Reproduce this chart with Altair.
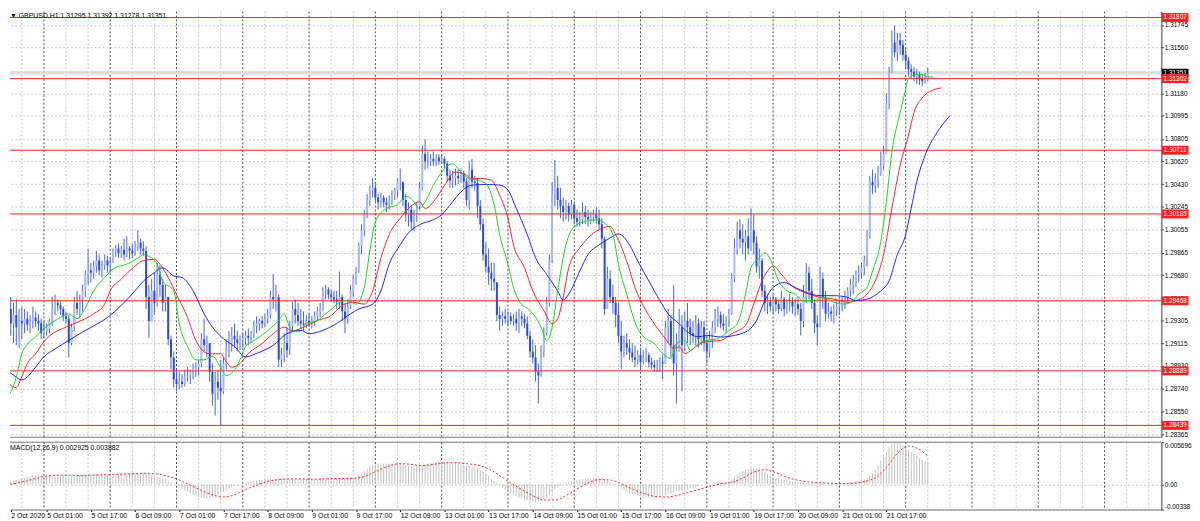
import json
import altair as alt
import pandas as pd

FONT = "Liberation Sans"
W, H_PRICE, H_MACD = 1163, 430, 68

# ---------------- data ----------------
FIRST_BAR = -15          # bar index; bar 0 = 5 Oct 2020 00:00, one bar per hour (H1)
FIRST_OPEN = 1.2885

HIGH = [
    1.2895, 1.2952, 1.2949, 1.2950, 1.2945, 1.2948, 1.2940, 1.2942, 1.2940, 1.2938,
    1.2935, 1.2942, 1.2938, 1.2936, 1.2932, 1.2930, 1.2928, 1.2932, 1.2950, 1.2952,
    1.2948, 1.2946, 1.2942, 1.2938, 1.2935, 1.2928, 1.2950, 1.2955, 1.2952, 1.2960,
    1.2972, 1.2990, 1.2978, 1.2980, 1.2988, 1.2985, 1.2980, 1.2985, 1.2984, 1.2982,
    1.2990, 1.2993, 1.2994, 1.2992, 1.2998, 1.3000, 1.2992, 1.2994, 1.2996, 1.3005,
    1.2998, 1.2996, 1.2992, 1.2960, 1.2965, 1.2970, 1.2978, 1.2976, 1.2965, 1.2960,
    1.2950, 1.2918, 1.2905, 1.2890, 1.2888, 1.2886, 1.2890, 1.2892, 1.2890, 1.2895,
    1.2896, 1.2898, 1.2920, 1.2932, 1.2918, 1.2912, 1.2895, 1.2888, 1.2890, 1.2898,
    1.2900, 1.2915, 1.2922, 1.2925, 1.2928, 1.2922, 1.2918, 1.2920, 1.2922, 1.2924,
    1.2922, 1.2930, 1.2934, 1.2932, 1.2934, 1.2936, 1.2940, 1.2955, 1.2969, 1.2960,
    1.2952, 1.2908, 1.2920, 1.2925, 1.2930, 1.2946, 1.2948, 1.2945, 1.2940, 1.2938,
    1.2935, 1.2936, 1.2934, 1.2938, 1.2942, 1.2945, 1.2958, 1.2960, 1.2958, 1.2956,
    1.2955, 1.2955, 1.2971, 1.2952, 1.2945, 1.2948, 1.2960, 1.2968, 1.2975, 1.2995,
    1.3010, 1.3022, 1.3035, 1.3042, 1.3048, 1.3045, 1.3035, 1.3036, 1.3034, 1.3032,
    1.3034, 1.3038, 1.3040, 1.3048, 1.3056, 1.3045, 1.3035, 1.3028, 1.3026, 1.3022,
    1.3028, 1.3045, 1.3075, 1.3080, 1.3070, 1.3068, 1.3070, 1.3068, 1.3068, 1.3068,
    1.3066, 1.3062, 1.3055, 1.3054, 1.3056, 1.3055, 1.3056, 1.3054, 1.3048, 1.3062,
    1.3064, 1.3050, 1.3048, 1.3030, 1.3015, 1.2995, 1.2990, 1.2978, 1.2978, 1.2960,
    1.2942, 1.2938, 1.2940, 1.2938, 1.2937, 1.2936, 1.2938, 1.2940, 1.2938, 1.2936,
    1.2934, 1.2922, 1.2915, 1.2910, 1.2895, 1.2910, 1.2925, 1.2950, 1.2985, 1.3045,
    1.3063, 1.3050, 1.3040, 1.3032, 1.3030, 1.3028, 1.3030, 1.3028, 1.3022, 1.3020,
    1.3028, 1.3025, 1.3022, 1.3020, 1.3022, 1.3024, 1.3022, 1.3015, 1.3000, 1.2975,
    1.2972, 1.2960, 1.2950, 1.2945, 1.2930, 1.2918, 1.2920, 1.2915, 1.2912, 1.2910,
    1.2906, 1.2908, 1.2906, 1.2908, 1.2904, 1.2900, 1.2898, 1.2898, 1.2900, 1.2902,
    1.2930, 1.2940, 1.2935, 1.2960, 1.2920, 1.2940, 1.2935, 1.2938, 1.2945, 1.2932,
    1.2930, 1.2935, 1.2932, 1.2930, 1.2930, 1.2918, 1.2922, 1.2930, 1.2940, 1.2942,
    1.2938, 1.2936, 1.2934, 1.2940, 1.2970, 1.2998, 1.3012, 1.3014, 1.3010, 1.3005,
    1.3015, 1.3023, 1.3018, 1.3000, 1.2990, 1.2982, 1.2960, 1.2952, 1.2950, 1.2952,
    1.2950, 1.2948, 1.2955, 1.2950, 1.2948, 1.2952, 1.2950, 1.2948, 1.2950, 1.2945,
    1.2960, 1.2978, 1.2975, 1.2965, 1.2948, 1.2935, 1.2975, 1.2970, 1.2955, 1.2945,
    1.2942, 1.2944, 1.2946, 1.2948, 1.2950, 1.2955, 1.2958, 1.2965, 1.2968, 1.2972,
    1.2976, 1.2978, 1.2984, 1.3005, 1.3050, 1.3055, 1.3052, 1.3058, 1.3070, 1.3075,
    1.3118, 1.3140, 1.3170, 1.3174, 1.3168, 1.3168, 1.3162, 1.3155, 1.3148, 1.3142,
    1.3140, 1.3138, 1.3136, 1.3134, 1.3135, 1.31392,
]
LOW = [
    1.2860, 1.2878, 1.2914, 1.2918, 1.2912, 1.2910, 1.2908, 1.2915, 1.2920, 1.2922,
    1.2920, 1.2924, 1.2925, 1.2922, 1.2915, 1.2916, 1.2918, 1.2920, 1.2926, 1.2935,
    1.2938, 1.2935, 1.2930, 1.2928, 1.2900, 1.2910, 1.2922, 1.2935, 1.2932, 1.2938,
    1.2950, 1.2960, 1.2962, 1.2965, 1.2970, 1.2968, 1.2966, 1.2972, 1.2970, 1.2970,
    1.2978, 1.2983, 1.2982, 1.2982, 1.2980, 1.2983, 1.2981, 1.2982, 1.2984, 1.2988,
    1.2985, 1.2984, 1.2940, 1.2916, 1.2930, 1.2935, 1.2942, 1.2950, 1.2938, 1.2938,
    1.2910, 1.2890, 1.2875, 1.2872, 1.2874, 1.2875, 1.2876, 1.2880, 1.2878, 1.2882,
    1.2884, 1.2885, 1.2892, 1.2905, 1.2900, 1.2880, 1.2860, 1.2852, 1.2865, 1.2844,
    1.2870, 1.2890, 1.2900, 1.2905, 1.2908, 1.2905, 1.2906, 1.2908, 1.2910, 1.2910,
    1.2912, 1.2916, 1.2920, 1.2922, 1.2924, 1.2925, 1.2928, 1.2932, 1.2940, 1.2938,
    1.2892, 1.2892, 1.2896, 1.2900, 1.2902, 1.2922, 1.2928, 1.2926, 1.2924, 1.2922,
    1.2924, 1.2925, 1.2924, 1.2926, 1.2930, 1.2933, 1.2938, 1.2948, 1.2948, 1.2946,
    1.2945, 1.2940, 1.2940, 1.2930, 1.2920, 1.2928, 1.2940, 1.2950, 1.2960, 1.2970,
    1.2985, 1.3000, 1.3015, 1.3025, 1.3032, 1.3028, 1.3022, 1.3024, 1.3024, 1.3020,
    1.3022, 1.3026, 1.3030, 1.3032, 1.3038, 1.3025, 1.3012, 1.3008, 1.3005, 1.3004,
    1.3012, 1.3022, 1.3038, 1.3055, 1.3056, 1.3058, 1.3058, 1.3058, 1.3059, 1.3060,
    1.3056, 1.3045, 1.3040, 1.3040, 1.3042, 1.3043, 1.3044, 1.3040, 1.3025, 1.3022,
    1.3040, 1.3038, 1.3015, 1.3005, 1.2980, 1.2970, 1.2960, 1.2955, 1.2955, 1.2930,
    1.2922, 1.2926, 1.2928, 1.2926, 1.2927, 1.2926, 1.2922, 1.2920, 1.2926, 1.2924,
    1.2915, 1.2900, 1.2895, 1.2880, 1.2862, 1.2884, 1.2900, 1.2918, 1.2942, 1.2978,
    1.3025, 1.3022, 1.3015, 1.3012, 1.3014, 1.3012, 1.3014, 1.3010, 1.3008, 1.3008,
    1.3010, 1.3010, 1.3008, 1.3010, 1.3012, 1.3010, 1.3006, 1.2990, 1.2935, 1.2940,
    1.2945, 1.2936, 1.2925, 1.2912, 1.2890, 1.2900, 1.2902, 1.2898, 1.2896, 1.2892,
    1.2894, 1.2890, 1.2894, 1.2896, 1.2892, 1.2890, 1.2888, 1.2888, 1.2888, 1.2882,
    1.2895, 1.2912, 1.2900, 1.2885, 1.2862, 1.2905, 1.2872, 1.2905, 1.2912, 1.2910,
    1.2912, 1.2910, 1.2908, 1.2910, 1.2905, 1.2895, 1.2900, 1.2908, 1.2920, 1.2925,
    1.2924, 1.2922, 1.2920, 1.2925, 1.2935, 1.2962, 1.2985, 1.2990, 1.2985, 1.2980,
    1.2985, 1.2988, 1.2985, 1.2970, 1.2965, 1.2950, 1.2938, 1.2936, 1.2938, 1.2936,
    1.2938, 1.2936, 1.2938, 1.2934, 1.2936, 1.2938, 1.2936, 1.2934, 1.2935, 1.2918,
    1.2925, 1.2945, 1.2948, 1.2940, 1.2920, 1.2910, 1.2935, 1.2940, 1.2930, 1.2932,
    1.2930, 1.2928, 1.2934, 1.2935, 1.2938, 1.2940, 1.2945, 1.2950, 1.2952, 1.2958,
    1.2962, 1.2965, 1.2968, 1.2975, 1.2998, 1.3035, 1.3036, 1.3040, 1.3050, 1.3055,
    1.3068, 1.3105, 1.3135, 1.3148, 1.3145, 1.3150, 1.3145, 1.3138, 1.3132, 1.3130,
    1.3128, 1.3126, 1.3125, 1.3124, 1.3126, 1.31278,
]
CLOSE = [
    1.2880, 1.2935, 1.2940, 1.2928, 1.2935, 1.2925, 1.2930, 1.2928, 1.2932, 1.2927,
    1.2930, 1.2933, 1.2930, 1.2928, 1.2920, 1.2922, 1.2924, 1.2930, 1.2940, 1.2945,
    1.2943, 1.2940, 1.2934, 1.2932, 1.2912, 1.2925, 1.2945, 1.2940, 1.2948, 1.2955,
    1.2968, 1.2972, 1.2970, 1.2975, 1.2980, 1.2972, 1.2976, 1.2980, 1.2976, 1.2978,
    1.2988, 1.2990, 1.2986, 1.2989, 1.2985, 1.2990, 1.2988, 1.2986, 1.2992, 1.2995,
    1.2990, 1.2988, 1.2950, 1.2930, 1.2955, 1.2945, 1.2968, 1.2960, 1.2945, 1.2950,
    1.2915, 1.2900, 1.2882, 1.2878, 1.2880, 1.2878, 1.2884, 1.2885, 1.2888, 1.2890,
    1.2892, 1.2895, 1.2915, 1.2910, 1.2912, 1.2888, 1.2870, 1.2880, 1.2875, 1.2872,
    1.2895, 1.2908, 1.2912, 1.2918, 1.2915, 1.2912, 1.2914, 1.2916, 1.2918, 1.2916,
    1.2920, 1.2926, 1.2928, 1.2930, 1.2928, 1.2932, 1.2935, 1.2950, 1.2948, 1.2950,
    1.2898, 1.2902, 1.2912, 1.2906, 1.2926, 1.2940, 1.2935, 1.2930, 1.2928, 1.2927,
    1.2930, 1.2928, 1.2930, 1.2934, 1.2938, 1.2940, 1.2955, 1.2956, 1.2952, 1.2950,
    1.2948, 1.2946, 1.2950, 1.2938, 1.2932, 1.2942, 1.2955, 1.2965, 1.2972, 1.2992,
    1.3005, 1.3018, 1.3030, 1.3038, 1.3040, 1.3032, 1.3028, 1.3032, 1.3028, 1.3026,
    1.3030, 1.3034, 1.3038, 1.3045, 1.3045, 1.3030, 1.3018, 1.3022, 1.3012, 1.3018,
    1.3025, 1.3040, 1.3068, 1.3062, 1.3062, 1.3064, 1.3062, 1.3065, 1.3062, 1.3064,
    1.3060, 1.3050, 1.3046, 1.3048, 1.3050, 1.3048, 1.3052, 1.3045, 1.3030, 1.3055,
    1.3045, 1.3044, 1.3025, 1.3010, 1.2985, 1.2975, 1.2970, 1.2965, 1.2962, 1.2935,
    1.2932, 1.2934, 1.2932, 1.2934, 1.2930, 1.2932, 1.2928, 1.2934, 1.2932, 1.2928,
    1.2918, 1.2905, 1.2900, 1.2888, 1.2885, 1.2905, 1.2920, 1.2945, 1.2980, 1.3035,
    1.3040, 1.3030, 1.3025, 1.3020, 1.3025, 1.3018, 1.3026, 1.3015, 1.3012, 1.3014,
    1.3020, 1.3016, 1.3014, 1.3016, 1.3018, 1.3015, 1.3010, 1.2998, 1.2940, 1.2965,
    1.2950, 1.2945, 1.2935, 1.2918, 1.2905, 1.2912, 1.2908, 1.2904, 1.2900, 1.2898,
    1.2902, 1.2896, 1.2900, 1.2902, 1.2896, 1.2894, 1.2892, 1.2893, 1.2896, 1.2895,
    1.2925, 1.2930, 1.2910, 1.2895, 1.2905, 1.2925, 1.2910, 1.2930, 1.2925, 1.2920,
    1.2918, 1.2928, 1.2915, 1.2925, 1.2912, 1.2905, 1.2915, 1.2925, 1.2932, 1.2935,
    1.2928, 1.2926, 1.2930, 1.2936, 1.2965, 1.2990, 1.3005, 1.2998, 1.2995, 1.3000,
    1.2990, 1.3005, 1.2995, 1.2975, 1.2980, 1.2955, 1.2945, 1.2946, 1.2942, 1.2948,
    1.2944, 1.2940, 1.2948, 1.2940, 1.2945, 1.2946, 1.2942, 1.2944, 1.2940, 1.2930,
    1.2950, 1.2970, 1.2955, 1.2945, 1.2928, 1.2925, 1.2965, 1.2950, 1.2936, 1.2938,
    1.2936, 1.2940, 1.2942, 1.2944, 1.2946, 1.2950, 1.2955, 1.2960, 1.2962, 1.2968,
    1.2970, 1.2974, 1.2980, 1.3000, 1.3045, 1.3042, 1.3048, 1.3052, 1.3058, 1.3068,
    1.3110, 1.3135, 1.3160, 1.3152, 1.3162, 1.3158, 1.3150, 1.3145, 1.3138, 1.3136,
    1.3132, 1.3134, 1.3130, 1.3128, 1.31295, 1.31351,
]

LIPS_BAR = [-15, -13, -10, -8, -6, -3, 0, 3, 6, 9, 12, 15, 18, 22, 25, 30, 34, 36, 39, 41,
            43, 47, 49, 52, 55, 58, 61, 64, 66, 68, 71, 73, 76, 81, 85, 87, 89, 92, 95, 99,
            102, 105, 107, 110, 113, 116, 118, 120, 124, 128, 131, 133, 136, 138, 141, 144, 148, 151, 154, 157,
            160, 163, 165, 168, 170, 172, 176, 178, 180, 182, 184, 186, 189, 192, 196, 200, 203, 206, 208, 211,
            213, 215, 218, 221, 224, 227, 229, 232, 234, 237, 240, 244, 248, 251, 254, 256, 259, 261, 263, 266,
            269, 272, 275, 279, 282, 286, 290, 293, 295, 298, 300, 303, 305, 307, 310, 312, 313, 316, 318, 320, 322]
LIPS = [1.28815, 1.2869, 1.2884, 1.2903, 1.2911, 1.2917, 1.2924, 1.2929, 1.2933, 1.2936,
        1.2932, 1.2941, 1.2955, 1.2966, 1.2973, 1.2977, 1.2982, 1.2985, 1.2982, 1.2977,
        1.2963, 1.2955, 1.2928, 1.2909, 1.2898, 1.2898, 1.2901, 1.2892, 1.2885, 1.2887,
        1.2898, 1.2909, 1.2914, 1.2922, 1.29305, 1.2936, 1.2925, 1.2921, 1.2928, 1.29305,
        1.2936, 1.29415, 1.29455, 1.2947, 1.2944, 1.2958, 1.2988, 1.3012, 1.3023, 1.3026,
        1.3033, 1.3031, 1.3023, 1.30286, 1.3042, 1.3053, 1.3060, 1.3053, 1.30477, 1.30463,
        1.30436, 1.3026, 1.30014, 1.29769, 1.29578, 1.29469, 1.29387, 1.29333, 1.2925, 1.2914,
        1.2925, 1.2955, 1.2993, 1.3008, 1.30123, 1.30136, 1.3011, 1.30014, 1.29769, 1.29523,
        1.2936, 1.29237, 1.29155, 1.29115, 1.29033, 1.28992, 1.29115, 1.29142, 1.2906, 1.29115,
        1.2914, 1.29155, 1.29223, 1.29278, 1.29523, 1.29741, 1.29823, 1.29864, 1.29809, 1.29632,
        1.2955, 1.29523, 1.29469, 1.29469, 1.29496, 1.29455, 1.29441, 1.29469, 1.29523, 1.29578,
        1.29714, 1.29959, 1.30286, 1.30695, 1.31022, 1.31213, 1.31308, 1.31335, 1.31335, 1.31316, 1.31316]

TEETH_BAR = [-15, -13, -10, -8, -6, -3, 0, 4, 7, 11, 15, 18, 22, 24, 28, 33, 36, 40, 42, 45,
             48, 52, 55, 58, 60, 64, 66, 68, 71, 74, 79, 83, 87, 90, 94, 99, 104, 108, 112, 116,
             119, 122, 125, 129, 132, 136, 138, 142, 145, 149, 153, 155, 158, 162, 165, 168, 170, 174, 177, 181,
             184, 186, 188, 190, 194, 197, 201, 205, 207, 211, 214, 218, 221, 225, 228, 230, 232, 236, 239, 245,
             249, 254, 257, 260, 262, 264, 267, 270, 274, 277, 281, 286, 291, 294, 298, 301, 304, 307, 310, 313,
             315, 318, 321, 325]
TEETH = [1.2884, 1.2879, 1.2875, 1.28842, 1.2895, 1.2903, 1.2913, 1.2921, 1.2924, 1.2928,
         1.2932, 1.2936, 1.2944, 1.2955, 1.29646, 1.29755, 1.2980, 1.2981, 1.2977, 1.2966,
         1.2952, 1.2933, 1.2914, 1.29046, 1.2903, 1.2903, 1.28965, 1.2892, 1.2895, 1.29033,
         1.29115, 1.29196, 1.2925, 1.2922, 1.2925, 1.29305, 1.29346, 1.2943, 1.29455, 1.2944,
         1.2955, 1.2982, 1.30014, 1.3015, 1.3023, 1.30286, 1.3023, 1.30314, 1.3042, 1.3053,
         1.30505, 1.30477, 1.30477, 1.30463, 1.3034, 1.3015, 1.2993, 1.2974, 1.2955, 1.29387,
         1.29278, 1.29319, 1.29496, 1.2974, 1.29905, 1.29987, 1.30055, 1.30082, 1.30014, 1.29796,
         1.29578, 1.29387, 1.29278, 1.29155, 1.29074, 1.29087, 1.29033, 1.29087, 1.29128, 1.2914,
         1.29196, 1.29264, 1.29441, 1.29632, 1.29714, 1.29755, 1.29687, 1.29605, 1.2955, 1.29523,
         1.29496, 1.29482, 1.29455, 1.29469, 1.29523, 1.29632, 1.2985, 1.30232, 1.30586, 1.30831,
         1.31022, 1.31144, 1.31199, 1.31226]

JAW_BAR = [-15, -12, -8, -6, -3, 0, 4, 9, 14, 18, 23, 28, 33, 36, 40, 43, 47, 50, 54, 58,
           61, 65, 69, 73, 77, 83, 88, 93, 96, 101, 106, 111, 114, 119, 122, 125, 129, 132, 136, 141,
           144, 148, 151, 155, 160, 165, 168, 171, 175, 178, 182, 186, 188, 190, 194, 197, 201, 205, 208, 212,
           215, 219, 223, 226, 230, 233, 237, 240, 245, 250, 255, 258, 261, 264, 268, 272, 276, 281, 286, 291,
           294, 298, 303, 306, 309, 312, 314, 316, 319, 323, 328]
JAW = [1.2891, 1.2887, 1.28815, 1.2884, 1.2892, 1.29005, 1.2907, 1.2914, 1.2921, 1.2926,
       1.2933, 1.2943, 1.2955, 1.2963, 1.2970, 1.2974, 1.29673, 1.2966, 1.2955, 1.2936,
       1.2925, 1.29155, 1.2909, 1.29005, 1.29033, 1.2910, 1.29196, 1.29224, 1.29196, 1.29224,
       1.2928, 1.2936, 1.2940, 1.2944, 1.2955, 1.2977, 1.2993, 1.30028, 1.30096, 1.30137,
       1.30178, 1.30286, 1.30368, 1.30423, 1.30428, 1.30423, 1.30382, 1.30232, 1.30014, 1.29823,
       1.29687, 1.2955, 1.29474, 1.29523, 1.29714, 1.2985, 1.2993, 1.29987, 1.3002, 1.2993,
       1.29796, 1.29632, 1.29469, 1.2936, 1.29278, 1.2921, 1.2917, 1.29182, 1.29169, 1.29182,
       1.29223, 1.29305, 1.29469, 1.29578, 1.29618, 1.29578, 1.29537, 1.2951, 1.2951, 1.29496,
       1.29469, 1.29482, 1.2955, 1.29632, 1.2985, 1.30014, 1.30232, 1.3045, 1.30668, 1.30845,
       1.30995]

# MACD(12,26,9) main (histogram), one value per bar
MACD_MAIN = [
    3e-4, 3e-4, 4e-4, 4e-4, 5e-4, 6e-4, 7e-4, 8e-4, 9e-4, 10e-4,
    11e-4, 12e-4, 12e-4, 13e-4, 13e-4, 13e-4, 13e-4, 13e-4, 12e-4, 12e-4,
    12e-4, 12e-4, 12e-4, 12e-4, 11e-4, 11e-4, 11e-4, 12e-4, 12e-4, 12e-4,
    13e-4, 13e-4, 13e-4, 13e-4, 13e-4, 13e-4, 13e-4, 13e-4, 14e-4, 14e-4,
    14e-4, 14e-4, 14e-4, 15e-4, 15e-4, 15e-4, 15e-4, 15e-4, 15e-4, 15e-4,
    15e-4, 15e-4, 14e-4, 13e-4, 12e-4, 11e-4, 10e-4, 9e-4, 8e-4, 7e-4,
    5e-4, 3e-4, 1e-4, -1e-4, -3e-4, -6e-4, -8e-4, -10e-4, -12e-4, -14e-4,
    -16e-4, -17e-4, -18e-4, -19e-4, -19e-4, -18e-4, -17e-4, -16e-4, -14e-4, -12e-4,
    -10e-4, -8e-4, -6e-4, -4e-4, -2e-4, -1e-4, 0.0, 1e-4, 2e-4, 3e-4,
    4e-4, 5e-4, 5e-4, 6e-4, 6e-4, 7e-4, 7e-4, 8e-4, 8e-4, 8e-4,
    8e-4, 8e-4, 7e-4, 7e-4, 7e-4, 7e-4, 7e-4, 7e-4, 7e-4, 7e-4,
    7e-4, 7e-4, 7e-4, 7e-4, 7e-4, 8e-4, 8e-4, 8e-4, 8e-4, 8e-4,
    8e-4, 8e-4, 8e-4, 8e-4, 8e-4, 8e-4, 8e-4, 9e-4, 10e-4, 12e-4,
    15e-4, 18e-4, 21e-4, 24e-4, 26e-4, 27e-4, 28e-4, 28e-4, 28e-4, 28e-4,
    28e-4, 28e-4, 28e-4, 28e-4, 28e-4, 27e-4, 26e-4, 25e-4, 25e-4, 25e-4,
    25e-4, 25e-4, 26e-4, 27e-4, 28e-4, 29e-4, 29e-4, 30e-4, 30e-4, 30e-4,
    30e-4, 30e-4, 29e-4, 29e-4, 29e-4, 28e-4, 28e-4, 27e-4, 26e-4, 25e-4,
    25e-4, 24e-4, 22e-4, 20e-4, 17e-4, 14e-4, 11e-4, 8e-4, 5e-4, 2e-4,
    -1e-4, -4e-4, -7e-4, -10e-4, -12e-4, -14e-4, -16e-4, -18e-4, -19e-4, -20e-4,
    -21e-4, -22e-4, -23e-4, -24e-4, -24e-4, -23e-4, -21e-4, -18e-4, -14e-4, -10e-4,
    -7e-4, -4e-4, -2e-4, 0.0, 2e-4, 3e-4, 4e-4, 5e-4, 6e-4, 7e-4,
    7e-4, 8e-4, 8e-4, 8e-4, 8e-4, 8e-4, 8e-4, 8e-4, 7e-4, 5e-4,
    3e-4, 1e-4, -1e-4, -3e-4, -6e-4, -8e-4, -10e-4, -12e-4, -13e-4, -14e-4,
    -15e-4, -16e-4, -17e-4, -17e-4, -18e-4, -18e-4, -18e-4, -18e-4, -17e-4, -16e-4,
    -15e-4, -13e-4, -12e-4, -11e-4, -10e-4, -9e-4, -8e-4, -7e-4, -6e-4, -5e-4,
    -4e-4, -3e-4, -2e-4, -1e-4, 0.0, 0.0, 1e-4, 1e-4, 2e-4, 2e-4,
    3e-4, 3e-4, 3e-4, 5e-4, 7e-4, 10e-4, 13e-4, 16e-4, 18e-4, 20e-4,
    21e-4, 22e-4, 22e-4, 21e-4, 20e-4, 18e-4, 16e-4, 14e-4, 12e-4, 10e-4,
    9e-4, 8e-4, 7e-4, 6e-4, 5e-4, 5e-4, 4e-4, 4e-4, 3e-4, 3e-4,
    3e-4, 2e-4, 2e-4, 2e-4, 2e-4, 2e-4, 2e-4, 2e-4, 1e-4, 1e-4,
    1e-4, 1e-4, 1e-4, 1e-4, 1e-4, 2e-4, 2e-4, 3e-4, 3e-4, 4e-4,
    5e-4, 6e-4, 7e-4, 9e-4, 12e-4, 15e-4, 20e-4, 26e-4, 32e-4, 38e-4,
    44e-4, 50e-4, 54e-4, 57e-4, 56e-4, 55e-4, 53e-4, 50e-4, 47e-4, 44e-4,
    41e-4, 38e-4, 35e-4, 33e-4, 31e-4, 29e-4,
]
SIGNAL_BAR = [-15, -11, -7, -3, 1, 5, 9, 13, 17, 21, 25, 29, 33, 37, 41, 45, 49, 53, 57, 61,
              65, 69, 73, 77, 81, 85, 89, 93, 97, 101, 105, 109, 113, 117, 121, 125, 129, 133, 137, 141,
              145, 149, 153, 157, 161, 165, 169, 173, 177, 181, 185, 189, 193, 197, 201, 205, 209, 213, 217, 221,
              225, 229, 233, 237, 241, 245, 249, 253, 257, 261, 265, 269, 273, 277, 281, 285, 289, 293, 297, 301,
              305, 309, 313, 316, 320]
SIGNAL = [-0.0002, 0.0001, 0.0004, 0.0008, 0.0011, 0.00125, 0.00125, 0.0012, 0.00125, 0.0013,
          0.00135, 0.0014, 0.00145, 0.0015, 0.0014, 0.0011, 0.0006, -0.0001, -0.0008, -0.0014,
          -0.0017, -0.0014, -0.0007, -0.0001, 0.0004, 0.00065, 0.00075, 0.00075, 0.0007, 0.00075,
          0.0008, 0.0008, 0.00085, 0.0012, 0.0019, 0.0025, 0.0028, 0.0027, 0.00255, 0.0027,
          0.0029, 0.00295, 0.0028, 0.0026, 0.0021, 0.0012, 0.0002, -0.0007, -0.0015, -0.0021,
          -0.0021, -0.0015, -0.0006, 0.0002, 0.00065, 0.0006, 0.0001, -0.0006, -0.0012, -0.0016,
          -0.0017, -0.0015, -0.0011, -0.0007, -0.0003, 0.0001, 0.0003, 0.00087, 0.00166, 0.00198,
          0.00158, 0.00097, 0.00057, 0.00034, 0.00024, 0.00016, 0.00011, 0.00017, 0.00037, 0.0009,
          0.00226, 0.00419, 0.00518, 0.0049, 0.00388]

LEVELS = [1.31807, 1.31302, 1.30711, 1.30185, 1.29468, 1.28889, 1.28439]
BID = 1.31351
PRICE_TICKS = [1.31745, 1.31560, 1.31365, 1.31180, 1.30995, 1.30805, 1.30620, 1.30430, 1.30245,
               1.30055, 1.29865, 1.29680, 1.29490, 1.29305, 1.29115, 1.28930, 1.28740, 1.28550, 1.28365]
MACD_TICKS = [0.005696, 0.0, -0.00338]
MACD_TICK_TEXT = ["0.005696", "0.00", "-0.00338"]

LABEL_BARS = [-12, 1, 17, 33, 49, 65, 81, 97, 113, 129, 145, 161, 177, 193, 209, 225, 241, 257, 273, 289, 305]
LABEL_TEXT = ["2 Oct 2020", "5 Oct 01:00", "5 Oct 17:00", "6 Oct 09:00", "7 Oct 01:00", "7 Oct 17:00",
              "8 Oct 09:00", "9 Oct 01:00", "9 Oct 17:00", "12 Oct 09:00", "13 Oct 01:00", "13 Oct 17:00",
              "14 Oct 09:00", "15 Oct 01:00", "15 Oct 17:00", "16 Oct 09:00", "19 Oct 01:00", "19 Oct 17:00",
              "20 Oct 09:00", "21 Oct 01:00", "21 Oct 17:00"]
GRID_BARS = [-8, 8, 16, 32, 40, 56, 64, 80, 88, 104, 112, 128, 136, 152, 160, 176, 184, 200, 208,
             224, 232, 248, 256, 272, 280, 296, 304, 320, 328, 344, 352, 368, 376, 392, 400]
DAY_BARS = [0, 24, 48, 72, 96, 120, 144, 168, 192, 216, 240, 264, 288, 312, 336, 360, 384]

TITLE = "\u25bc GBPUSD,H1  1.31295 1.31392 1.31278 1.31351"
MACD_TITLE = "MACD(12,26,9) 0.002925 0.003882"

# ---------------- view settings ----------------
X_DOMAIN = [-12.29, 404.55]
P_DOMAIN = [1.28341, 1.31856]
M_DOMAIN = [-0.00338, 0.005696]
RED = "#ff1e1e"
WICK, BULL, BEAR = "#4463e2", "#a9b8f2", "#2a4ade"
GRID_C, SEP_C, BORDER = "#c6c6c6", "#4a4a4a", "#7a7a7a"

xs = alt.Scale(domain=X_DOMAIN, nice=False, zero=False)
ps = alt.Scale(domain=P_DOMAIN, nice=False, zero=False)
ms = alt.Scale(domain=M_DOMAIN, nice=False, zero=False)

price_axis = alt.Axis(orient="right", values=PRICE_TICKS, format=".5f", grid=True, gridColor=GRID_C,
                      gridDash=[2, 2], tickSize=2, tickColor="#000000", labelFontSize=6.5, labelFont=FONT,
                      labelColor="#000000", labelPadding=1, domainColor=BORDER, domainWidth=1.5,
                      title=None, labelOverlap=False)
label_expr = json.dumps(LABEL_TEXT) + "[indexof(" + json.dumps(LABEL_BARS) + ", datum.value)]"
macd_expr = json.dumps(MACD_TICK_TEXT) + "[indexof(" + json.dumps(MACD_TICKS) + ", datum.value)]"
time_axis = alt.Axis(values=LABEL_BARS, labelExpr=label_expr, labelAlign="left", labelBaseline="top",
                     labelFontSize=7, labelFont=FONT, labelColor="#000000", labelPadding=0, tickSize=2,
                     tickColor="#000000", domainColor=BORDER, domainWidth=1, grid=False, title=None,
                     labelOverlap=False, labelFlush=False)
macd_axis = alt.Axis(orient="right", values=MACD_TICKS, labelExpr=macd_expr, grid=True, gridColor=GRID_C,
                     gridDash=[2, 2], tickSize=2, tickColor="#000000", labelFontSize=6.5, labelFont=FONT,
                     labelColor="#000000", labelPadding=1, labelFlush=True, domainColor=BORDER,
                     domainWidth=1.5, title=None, labelOverlap=False)


def PX(field="bar:Q"):
    return alt.X(field, scale=xs, axis=None)


def PY(field):
    return alt.Y(field, scale=ps, axis=price_axis)


def MX(field="bar:Q"):
    return alt.X(field, scale=xs, axis=time_axis)


def MY(field):
    return alt.Y(field, scale=ms, axis=macd_axis)


bars = list(range(FIRST_BAR, FIRST_BAR + len(CLOSE)))
opens = [FIRST_OPEN] + CLOSE[:-1]
candles = pd.DataFrame({"bar": bars, "open": opens, "high": HIGH, "low": LOW, "close": CLOSE})
candles["dir"] = ["up" if c >= o else "down" for o, c in zip(opens, CLOSE)]

grid_df = pd.DataFrame({"bar": GRID_BARS})
day_df = pd.DataFrame({"bar": DAY_BARS})
lvl_df = pd.DataFrame({"price": LEVELS})
bid_df = pd.DataFrame({"price": [BID]})
one = pd.DataFrame({"t": [TITLE]})
one_m = pd.DataFrame({"t": [MACD_TITLE]})

# ---------------- price panel ----------------
vgrid_p = alt.Chart(grid_df).mark_rule(color=GRID_C, strokeDash=[2, 2], strokeWidth=1).encode(x=PX())
vday_p = alt.Chart(day_df).mark_rule(color=SEP_C, strokeDash=[2, 2], strokeWidth=1).encode(x=PX())
bid_line = alt.Chart(bid_df).mark_rule(color="#dcdcdc", strokeWidth=3).encode(y=PY("price:Q"))
levels = alt.Chart(lvl_df).mark_rule(color=RED, strokeWidth=1).encode(y=PY("price:Q"))
wicks = alt.Chart(candles).mark_rule(color=WICK, strokeWidth=1, clip=True).encode(
    x=PX(), y=PY("low:Q"), y2="high:Q")
bodies = alt.Chart(candles).mark_rule(strokeWidth=2, clip=True).encode(
    x=PX(), y=PY("open:Q"), y2="close:Q",
    color=alt.Color("dir:N", scale=alt.Scale(domain=["up", "down"], range=[BULL, BEAR]), legend=None))


def ma(b, v, color):
    df = pd.DataFrame({"bar": b, "v": v})
    return alt.Chart(df).mark_line(color=color, strokeWidth=1, clip=True, interpolate="monotone").encode(
        x=PX(), y=PY("v:Q"))


lips = ma(LIPS_BAR, LIPS, "#16d816")
teeth = ma(TEETH_BAR, TEETH, "#ff2020")
jaw = ma(JAW_BAR, JAW, "#2020ff")

lvl_box = alt.Chart(lvl_df).mark_tick(color=RED, thickness=9, size=27, orient="horizontal", opacity=1).encode(
    y=PY("price:Q"), x=alt.value(W + 14))
lvl_txt = alt.Chart(lvl_df).mark_text(color="white", fontSize=6.5, font=FONT, align="center",
                                      baseline="middle").encode(
    y=PY("price:Q"), x=alt.value(W + 14), text=alt.Text("price:Q", format=".5f"))
bid_box = alt.Chart(bid_df).mark_tick(color="#000000", thickness=8, size=27, orient="horizontal", opacity=1).encode(
    y=PY("price:Q"), x=alt.value(W + 14))
bid_txt = alt.Chart(bid_df).mark_text(color="white", fontSize=6.5, font=FONT, align="center",
                                      baseline="middle").encode(
    y=PY("price:Q"), x=alt.value(W + 14), text=alt.Text("price:Q", format=".5f"))
title = alt.Chart(one).mark_text(align="left", baseline="top", fontSize=7, font=FONT, color="#000000").encode(
    x=alt.value(0), y=alt.value(1), text="t:N")
p_border = alt.Chart(one).mark_rule(color=BORDER, strokeWidth=1).encode(
    x=alt.value(0), x2=alt.value(W), y=alt.value(H_PRICE))

price = alt.layer(vgrid_p, vday_p, bid_line, wicks, bodies, levels, teeth, jaw, lips,
                  bid_box, bid_txt, lvl_box, lvl_txt, title, p_border).properties(width=W, height=H_PRICE)

# ---------------- MACD panel ----------------
macd_df = pd.DataFrame({"bar": bars, "main": MACD_MAIN})
sig_df = pd.DataFrame({"bar": SIGNAL_BAR, "sig": SIGNAL})

vgrid_m = alt.Chart(grid_df).mark_rule(color=GRID_C, strokeDash=[2, 2], strokeWidth=1).encode(x=MX())
vday_m = alt.Chart(day_df).mark_rule(color=SEP_C, strokeDash=[2, 2], strokeWidth=1).encode(x=MX())
hist = alt.Chart(macd_df).transform_calculate(zero="0").mark_rule(
    color="#c0c0c0", strokeWidth=1, clip=True).encode(x=MX(), y=MY("main:Q"), y2="zero:Q")
sig = alt.Chart(sig_df).mark_line(color="#ff2020", strokeDash=[2, 2], strokeWidth=1, clip=True,
                                  interpolate="monotone").encode(x=MX(), y=MY("sig:Q"))
m_border = alt.Chart(one_m).mark_rule(color=BORDER, strokeWidth=1).encode(
    x=alt.value(0), x2=alt.value(W), y=alt.value(0))
m_title = alt.Chart(one_m).mark_text(align="left", baseline="top", fontSize=7, font=FONT,
                                     color="#000000").encode(x=alt.value(0), y=alt.value(2), text="t:N")

macd = alt.layer(vgrid_m, vday_m, hist, sig, m_border, m_title).properties(width=W, height=H_MACD)

chart = alt.vconcat(price, macd, spacing=3).properties(padding=0).configure_view(strokeWidth=0)

chart.save("out.html", embed_options={"renderer": "svg", "actions": False})
